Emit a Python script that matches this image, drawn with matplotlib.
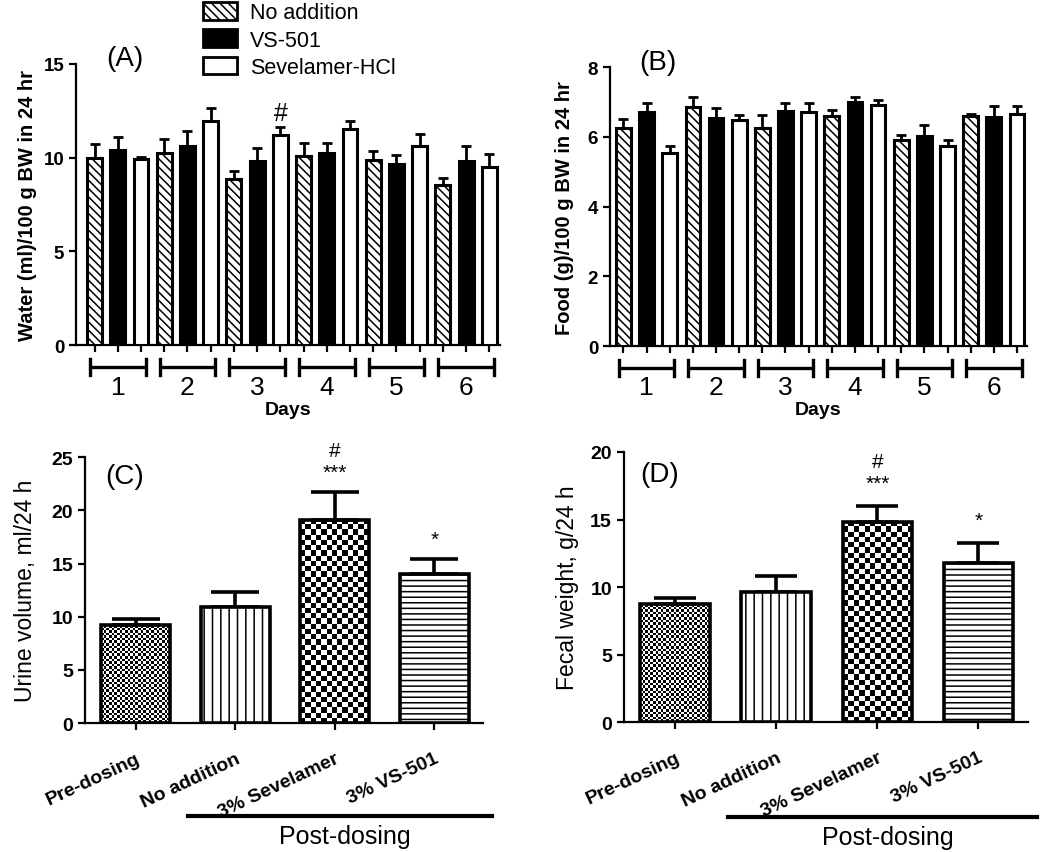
import matplotlib
matplotlib.use("Agg")
import matplotlib.pyplot as plt
import numpy as np
from matplotlib.patches import Patch
from matplotlib.transforms import blended_transform_factory

plt.rcParams["font.family"] = ["Liberation Sans", "DejaVu Sans"]
plt.rcParams["hatch.linewidth"] = 1.1

# ---- data ----
days = ["1", "2", "3", "4", "5", "6"]
group_names = ["No addition", "VS-501", "Sevelamer-HCl"]

water_no_add = [10.0, 10.25, 8.85, 10.1, 9.85, 8.55]
water_no_add_sem = [0.75, 0.75, 0.42, 0.68, 0.5, 0.38]
water_vs501 = [10.4, 10.6, 9.8, 10.25, 9.65, 9.8]
water_vs501_sem = [0.68, 0.8, 0.7, 0.55, 0.5, 0.8]
water_sev = [9.95, 11.95, 11.2, 11.55, 10.6, 9.5]
water_sev_sem = [0.08, 0.68, 0.43, 0.42, 0.65, 0.72]

food_no_add = [6.25, 6.85, 6.25, 6.6, 5.92, 6.6]
food_no_add_sem = [0.26, 0.31, 0.38, 0.17, 0.14, 0.05]
food_vs501 = [6.72, 6.53, 6.75, 6.99, 6.02, 6.56]
food_vs501_sem = [0.25, 0.29, 0.22, 0.15, 0.32, 0.34]
food_sev = [5.54, 6.49, 6.72, 6.92, 5.73, 6.67]
food_sev_sem = [0.19, 0.14, 0.25, 0.14, 0.19, 0.21]

categories = ["Pre-dosing", "No addition", "3% Sevelamer", "3% VS-501"]
urine = [9.2, 10.95, 19.1, 14.0]
urine_sem = [0.62, 1.33, 2.63, 1.42]
fecal = [8.72, 9.63, 14.8, 11.75]
fecal_sem = [0.5, 1.23, 1.2, 1.53]
star_marks = ["", "", "***", "*"]
hash_marks = ["", "", "#", ""]

LW = 2.2
fig = plt.figure(figsize=(10.5, 8.53), dpi=100)


def style_axes(ax):
    for s in ("top", "right"):
        ax.spines[s].set_visible(False)
    for s in ("left", "bottom"):
        ax.spines[s].set_linewidth(1.6)
    ax.tick_params(width=1.6, length=5)
    for lab in ax.get_yticklabels():
        lab.set_fontweight("bold")


def daily_panel(ax, series, sems, ylim, yticks, ylabel, tag, xlim, label_x):
    styles = [dict(facecolor="white", hatch="\\\\\\\\"),
              dict(facecolor="black"),
              dict(facecolor="white")]
    pos = np.arange(len(days) * 3)
    for g in range(3):
        x = pos[g::3]
        ax.errorbar(x, series[g], yerr=[np.zeros(len(days)), sems[g]], fmt="none",
                    ecolor="black", elinewidth=2.0, capsize=3.5, capthick=2.0, zorder=2)
        ax.bar(x, series[g], width=0.64, edgecolor="black", linewidth=LW, zorder=3, **styles[g])
    ax.set_xlim(*xlim)
    ax.set_ylim(*ylim)
    ax.set_yticks(yticks)
    ax.set_yticklabels([str(t) for t in yticks], fontsize=13.5)
    ax.set_xticks(pos)
    ax.set_xticklabels([])
    ax.tick_params(axis="x", length=7)
    style_axes(ax)
    ax.set_ylabel(ylabel, fontsize=14.5, fontweight="bold")
    ax.yaxis.set_label_coords(label_x, 0.5)
    tr = blended_transform_factory(ax.transData, ax.transAxes)
    for d, name in enumerate(days):
        c = 3 * d + 1
        ax.plot([c - 1.2, c + 1.2], [-0.078, -0.078], color="black", lw=2.4,
                transform=tr, clip_on=False, solid_capstyle="butt")
        for e in (c - 1.2, c + 1.2):
            ax.plot([e, e], [-0.05, -0.106], color="black", lw=2.4,
                    transform=tr, clip_on=False)
        ax.text(c, -0.148, name, transform=tr, ha="center", va="center", fontsize=19)
    ax.text(0.5, -0.228, "Days", transform=ax.transAxes, ha="center", va="center",
            fontsize=14, fontweight="bold")
    ax.text(0.115, 1.02, tag, transform=ax.transAxes, ha="center", va="center", fontsize=20)


def checker_fill(ax, bar, cell_px):
    # fill a bar with a black/white checkerboard clipped to its outline
    x0, y0 = bar.get_x(), bar.get_y()
    w, h = bar.get_width(), bar.get_height()
    p0 = ax.transData.transform((x0, y0))
    p1 = ax.transData.transform((x0 + w, y0 + h))
    nx = max(1, int(round(abs(p1[0] - p0[0]) / cell_px)))
    ny = max(1, int(round(abs(p1[1] - p0[1]) / cell_px)))
    grid = (np.add.outer(np.arange(ny), np.arange(nx)) % 2).astype(float)
    im = ax.imshow(grid, cmap="gray", extent=(x0, x0 + w, y0, y0 + h), origin="lower",
                   interpolation="nearest", aspect="auto", zorder=1.5)
    im.set_clip_path(bar)


def outcome_panel(ax, values, sems, ylim, yticks, ylabel, tag, tag_pos, label_x,
                  capsize, star_off, hash_off):
    x = np.arange(len(categories))
    ax.set_xlim(-0.51, 3.49)
    ax.set_ylim(*ylim)
    ax.errorbar(x, values, yerr=[np.zeros(len(x)), sems], fmt="none", ecolor="black",
                elinewidth=2.6, capsize=capsize, capthick=2.6, zorder=2)
    fills = ["none", "white", "none", "white"]
    hatches = [None, "||", None, "---"]
    bars = []
    for i in range(len(x)):
        b = ax.bar(x[i], values[i], width=0.69, facecolor=fills[i], hatch=hatches[i],
                   edgecolor="black", linewidth=2.6, zorder=3)[0]
        bars.append(b)
    checker_fill(ax, bars[0], 2.6)
    checker_fill(ax, bars[2], 5.2)
    for i in range(len(x)):
        top = values[i] + sems[i]
        if star_marks[i]:
            ax.annotate(star_marks[i], (x[i], top), xytext=(0, star_off), textcoords="offset points",
                        ha="center", va="center", fontsize=15)
        if hash_marks[i]:
            ax.annotate(hash_marks[i], (x[i], top), xytext=(0, hash_off), textcoords="offset points",
                        ha="center", va="center", fontsize=15)
    ax.set_yticks(yticks)
    ax.set_yticklabels([str(t) for t in yticks], fontsize=14)
    ax.set_xticks(x)
    ax.set_xticklabels(categories, rotation=25, ha="right", rotation_mode="anchor",
                       fontsize=14, fontweight="bold")
    ax.tick_params(axis="x", length=7, pad=14)
    style_axes(ax)
    ax.set_ylabel(ylabel, fontsize=16.5)
    ax.yaxis.set_label_coords(label_x, 0.5)
    tr = blended_transform_factory(ax.transData, ax.transAxes)
    ax.plot([0.52, 3.58], [-0.35, -0.35], color="black", lw=3, transform=tr, clip_on=False)
    ax.text(2.1, -0.425, "Post-dosing", transform=tr, ha="center", va="center", fontsize=18)
    ax.text(tag_pos[0], tag_pos[1], tag, transform=ax.transAxes, ha="center", va="center",
            fontsize=20)


ax_a = fig.add_axes([0.0724, 0.594, 0.4036, 0.330])
daily_panel(ax_a, [water_no_add, water_vs501, water_sev],
            [water_no_add_sem, water_vs501_sem, water_sev_sem],
            (0, 15), [0, 5, 10, 15], "Water (ml)/100 g BW in 24 hr", "(A)",
            (-0.8, 17.45), -0.092)
ax_a.text(8, 12.4, "#", ha="center", va="center", fontsize=18)

ax_b = fig.add_axes([0.581, 0.593, 0.397, 0.327])
daily_panel(ax_b, [food_no_add, food_vs501, food_sev],
            [food_no_add_sem, food_vs501_sem, food_sev_sem],
            (0, 8), [0, 2, 4, 6, 8], "Food (g)/100 g BW in 24 hr", "(B)",
            (-0.58, 17.43), -0.086)

ax_c = fig.add_axes([0.081, 0.151, 0.379, 0.312])
outcome_panel(ax_c, urine, urine_sem, (0, 25), [0, 5, 10, 15, 20, 25],
              "Urine volume, ml/24 h", "(C)", (0.10, 0.93), -0.12, 17, 14, 30)

ax_d = fig.add_axes([0.594, 0.152, 0.385, 0.317])
outcome_panel(ax_d, fecal, fecal_sem, (0, 20), [0, 5, 10, 15, 20],
              "Fecal weight, g/24 h", "(D)", (0.09, 0.92), -0.11, 15, 16, 32)

handles = [Patch(facecolor="white", hatch="\\\\\\\\", edgecolor="black", linewidth=2),
           Patch(facecolor="black", edgecolor="black", linewidth=2),
           Patch(facecolor="white", edgecolor="black", linewidth=2)]
fig.legend(handles, group_names, loc="upper left", bbox_to_anchor=(0.193, 0.996),
           frameon=False, fontsize=15.5, handlelength=1.6, handleheight=0.85,
           handletextpad=0.6, labelspacing=0.28, borderpad=0, borderaxespad=0)

fig.savefig("out.png", dpi=100)
